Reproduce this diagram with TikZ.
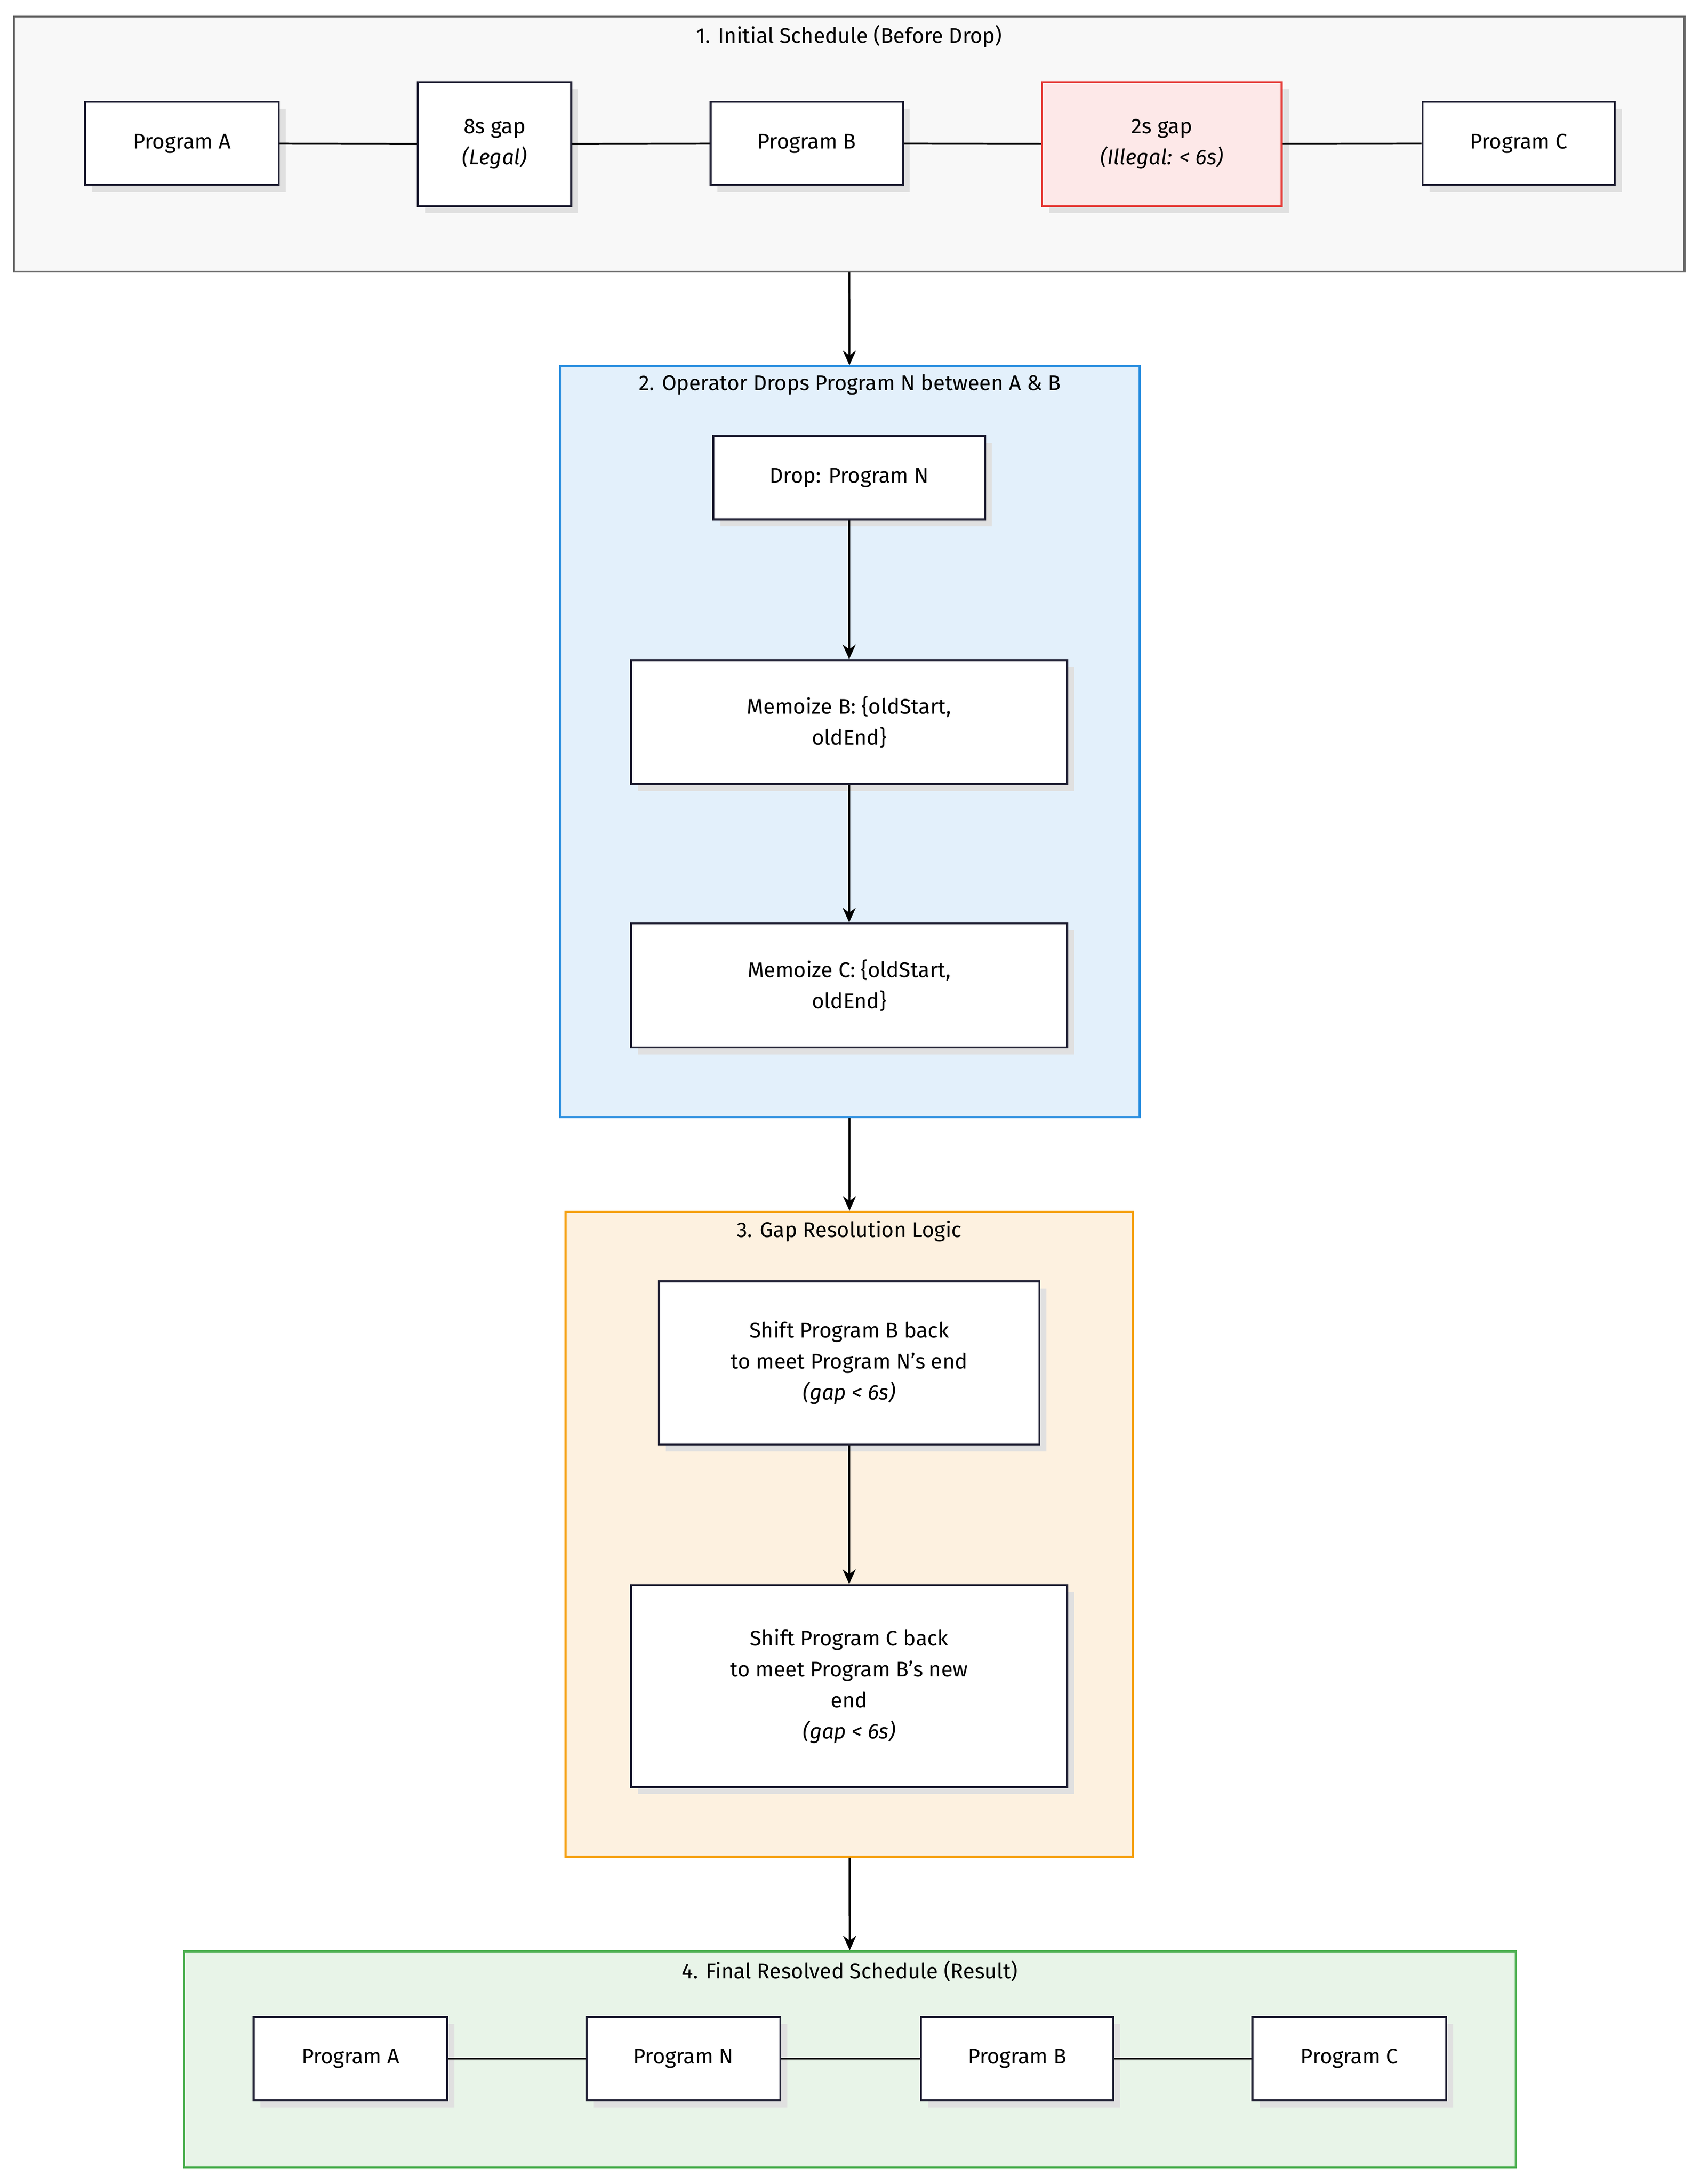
\documentclass[tikz,border=0pt]{standalone}
\usepackage{fontspec}
\setmainfont{Fira Sans}
\usetikzlibrary{arrows.meta,shadows}
\definecolor{framegray}{HTML}{666666}
\definecolor{fillgray}{HTML}{F8F8F8}
\definecolor{frameblue}{HTML}{2B8FE0}
\definecolor{fillblue}{HTML}{E3F0FB}
\definecolor{frameorange}{HTML}{F59E0B}
\definecolor{fillorange}{HTML}{FDF1E0}
\definecolor{framegreen}{HTML}{4CAF50}
\definecolor{fillgreen}{HTML}{E8F4E8}
\definecolor{boxline}{HTML}{1E1E32}
\definecolor{badred}{HTML}{E53935}
\definecolor{badfill}{HTML}{FDE8E8}
\tikzset{
  frame/.style={draw, line width=1.2pt, minimum width=#1, inner sep=0pt},
  box/.style={draw=boxline, fill=white, line width=1.2pt, align=center, inner sep=2pt,
    drop shadow={shadow xshift=0.15cm, shadow yshift=-0.15cm, fill=black!12, opacity=1}},
  title/.style={font=\fontsize{13}{16}\selectfont},
  link/.style={line width=1.2pt},
  flow/.style={line width=1.2pt, -{Stealth[length=9pt,width=8pt]}}
}
\begin{document}
\begin{tikzpicture}[x=0.03cm, y=-0.03cm, font=\fontsize{13}{19}\selectfont]
  \useasboundingbox (0,0) rectangle (1220,1568);
  % frames
  \node[frame=35.97cm, minimum height=5.49cm, draw=framegray, fill=fillgray] (initial) at (609.5,103.5) {};
  \node[frame=12.48cm, minimum height=16.17cm, draw=frameblue, fill=fillblue] (dropping) at (610,532.5) {};
  \node[frame=12.21cm, minimum height=13.89cm, draw=frameorange, fill=fillorange] (resolve) at (609.5,1101.5) {};
  \node[frame=28.68cm, minimum height=4.65cm, draw=framegreen, fill=fillgreen] (final) at (610,1478.5) {};
  \node[title] at (609.5,26) {1. Initial Schedule (Before Drop)};
  \node[title] at (610,276) {2. Operator Drops Program N between A \& B};
  \node[title] at (609.5,884) {3. Gap Resolution Logic};
  \node[title] at (610,1415) {4. Final Resolved Schedule (Result)};

  % 1. initial schedule
  \node[box, minimum width=4.17cm, minimum height=1.8cm] (progA) at (130.5,103) {Program A};
  \node[box, minimum width=3.3cm, minimum height=2.67cm] (gapLegal) at (355,103.5) {8s gap\\\textit{(Legal)}};
  \node[box, minimum width=4.14cm, minimum height=1.8cm] (progB) at (579,103) {Program B};
  \node[box, draw=badred, fill=badfill, minimum width=5.16cm, minimum height=2.67cm] (gapBad) at (834,103.5) {2s gap\\\textit{(Illegal: < 6s)}};
  \node[box, minimum width=4.14cm, minimum height=1.8cm] (progC) at (1090,103) {Program C};
  \draw[link] (progA) -- (gapLegal);
  \draw[link] (gapLegal) -- (progB);
  \draw[link] (progB) -- (gapBad);
  \draw[link] (gapBad) -- (progC);

  % 2. drop
  \node[box, minimum width=5.85cm, minimum height=1.8cm] (dropN) at (609.5,343) {Drop: Program N};
  \node[box, minimum width=9.39cm, minimum height=2.67cm] (memoB) at (609.5,518.5) {Memoize B: \{oldStart,\\oldEnd\}};
  \node[box, minimum width=9.39cm, minimum height=2.67cm] (memoC) at (609.5,707.5) {Memoize C: \{oldStart,\\oldEnd\}};
  \draw[flow] (dropN) -- (memoB);
  \draw[flow] (memoB) -- (memoC);

  % 3. resolution
  \node[box, minimum width=8.19cm, minimum height=3.51cm] (shiftB) at (609.5,978.5) {Shift Program B back\\to meet Program N's end\\\textit{(gap < 6s)}};
  \node[box, minimum width=9.39cm, minimum height=4.35cm] (shiftC) at (609.5,1210.5) {Shift Program C back\\to meet Program B's new\\end\\\textit{(gap < 6s)}};
  \draw[flow] (shiftB) -- (shiftC);

  % 4. final schedule
  \node[box, minimum width=4.17cm, minimum height=1.8cm] (finA) at (251.5,1478) {Program A};
  \node[box, minimum width=4.17cm, minimum height=1.8cm] (finN) at (490.5,1478) {Program N};
  \node[box, minimum width=4.14cm, minimum height=1.8cm] (finB) at (730,1478) {Program B};
  \node[box, minimum width=4.17cm, minimum height=1.8cm] (finC) at (968.5,1478) {Program C};
  \draw[link] (finA) -- (finN);
  \draw[link] (finN) -- (finB);
  \draw[link] (finB) -- (finC);

  % between stages
  \draw[flow] (initial) -- (dropping);
  \draw[flow] (dropping) -- (resolve);
  \draw[flow] (resolve) -- (final);
\end{tikzpicture}
\end{document}
